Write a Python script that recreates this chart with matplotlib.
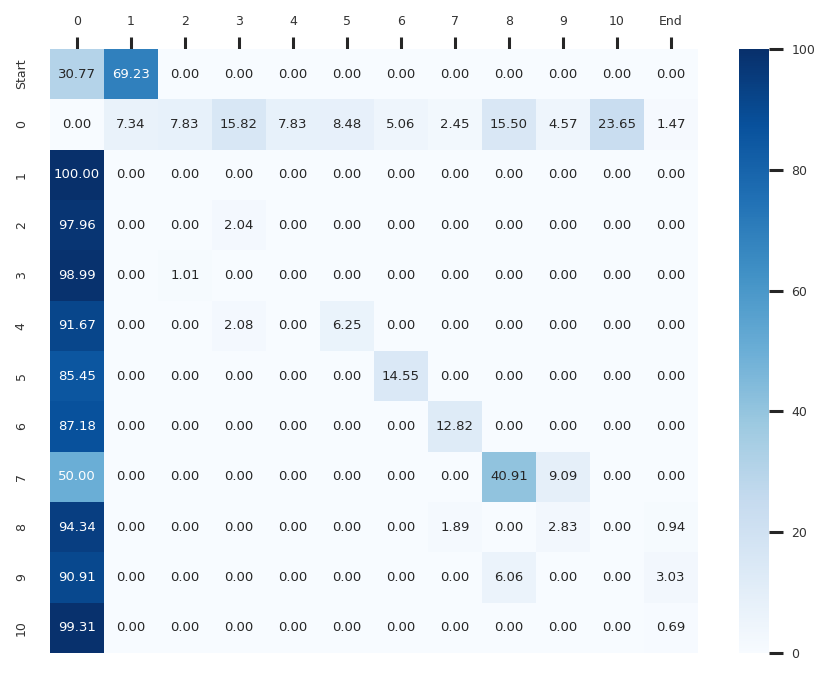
import numpy as np
import matplotlib
matplotlib.use("Agg")
import matplotlib.pyplot as plt
import seaborn as sns

# transition probabilities (%) between states
row_labels = ["Start", "0", "1", "2", "3", "4", "5", "6", "7", "8", "9", "10"]
col_labels = ["0", "1", "2", "3", "4", "5", "6", "7", "8", "9", "10", "End"]

row_start = [30.77, 69.23, 0, 0, 0, 0, 0, 0, 0, 0, 0, 0]
row_0 = [0.00, 7.34, 7.83, 15.82, 7.83, 8.48, 5.06, 2.45, 15.50, 4.57, 23.65, 1.47]
row_1 = [100.00, 0, 0, 0, 0, 0, 0, 0, 0, 0, 0, 0]
row_2 = [97.96, 0, 0, 2.04, 0, 0, 0, 0, 0, 0, 0, 0]
row_3 = [98.99, 0, 1.01, 0, 0, 0, 0, 0, 0, 0, 0, 0]
row_4 = [91.67, 0, 0, 2.08, 0, 6.25, 0, 0, 0, 0, 0, 0]
row_5 = [85.45, 0, 0, 0, 0, 0, 14.55, 0, 0, 0, 0, 0]
row_6 = [87.18, 0, 0, 0, 0, 0, 0, 12.82, 0, 0, 0, 0]
row_7 = [50.00, 0, 0, 0, 0, 0, 0, 0, 40.91, 9.09, 0, 0]
row_8 = [94.34, 0, 0, 0, 0, 0, 0, 1.89, 0, 2.83, 0, 0.94]
row_9 = [90.91, 0, 0, 0, 0, 0, 0, 0, 6.06, 0, 0, 3.03]
row_10 = [99.31, 0, 0, 0, 0, 0, 0, 0, 0, 0, 0, 0.69]

matrix = np.array([row_start, row_0, row_1, row_2, row_3, row_4, row_5,
                   row_6, row_7, row_8, row_9, row_10])

sns.set_theme(style="white")
plt.rcParams["font.family"] = ["DejaVu Sans"]

fig = plt.figure(figsize=(8.31, 6.77), dpi=100)
W, H = 831, 677
ax = fig.add_axes([50 / W, 1 - 653 / H, 648 / W, 604 / H])
cax = fig.add_axes([739 / W, 1 - 653 / H, 30 / W, 604 / H])

sns.heatmap(matrix, ax=ax, cbar_ax=cax, cmap="Blues", vmin=0, vmax=100,
            annot=True, fmt=".2f", annot_kws={"fontsize": 9.5},
            xticklabels=col_labels, yticklabels=row_labels)

ax.xaxis.tick_top()
ax.tick_params(axis="x", top=True, bottom=False, length=9, width=2.2,
               pad=6, labelsize=9, color="#262626", labelcolor="#333333")
ax.tick_params(axis="y", left=False, length=9, pad=7, labelsize=9,
               labelcolor="#333333")
plt.setp(ax.get_xticklabels(), rotation=0)
plt.setp(ax.get_yticklabels(), rotation=90, va="center")

cax.tick_params(axis="y", right=True, length=10, width=2.2, pad=6,
                labelsize=9, color="#262626", labelcolor="#333333")
cax.set_yticks([0, 20, 40, 60, 80, 100])

fig.savefig("out.png", dpi=100)
